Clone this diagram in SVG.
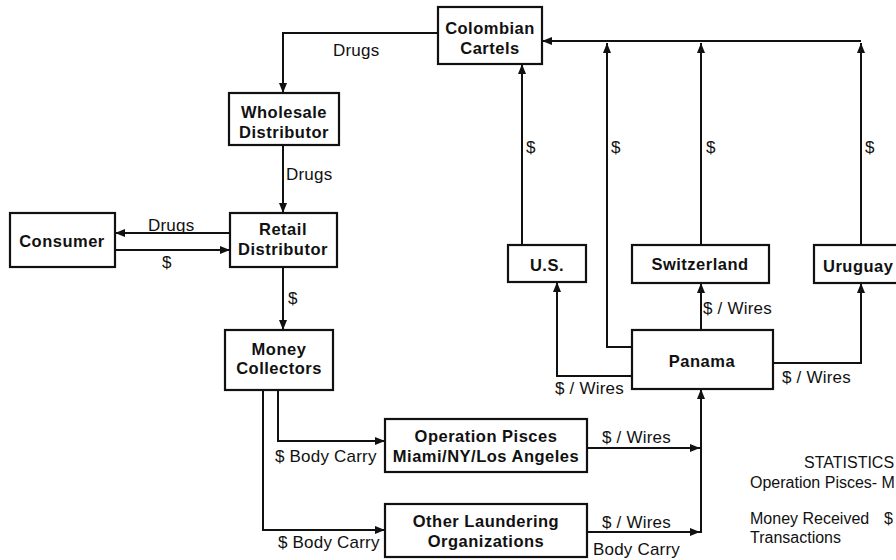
<svg xmlns="http://www.w3.org/2000/svg" width="896" height="560" viewBox="0 0 896 560">
  <style>
    .box { fill: #ffffff; stroke: #111111; stroke-width: 2.2; }
    .node { font-family: "Liberation Sans", Arial, sans-serif; font-weight: bold; font-size: 16.5px; letter-spacing: 0.5px; fill: #111111; text-anchor: middle; }
    .lbl { font-family: "Liberation Sans", Arial, sans-serif; font-size: 17px; letter-spacing: 0.2px; fill: #111111; }
    .stat { font-family: "Liberation Sans", Arial, sans-serif; font-size: 16px; fill: #111111; }
    .wire { fill: none; stroke: #111111; stroke-width: 2; }
  </style>
  <defs>
    <marker id="arrow" viewBox="0 0 10 8" refX="10" refY="4" markerWidth="10" markerHeight="8" markerUnits="userSpaceOnUse" orient="auto">
      <path d="M0,0 L10,4 L0,8 z" fill="#111111"/>
    </marker>
  </defs>
  <rect width="896" height="560" fill="#ffffff"/>

  <!-- connectors -->
  <g id="connectors" class="wire">
    <path d="M438,33 H283 V93" marker-end="url(#arrow)"/>
    <path d="M283,145 V213" marker-end="url(#arrow)"/>
    <path d="M230,233 H115" marker-end="url(#arrow)"/>
    <path d="M115,250 H230" marker-end="url(#arrow)"/>
    <path d="M283,267 V330" marker-end="url(#arrow)"/>
    <path d="M278,390 V441 H385" marker-end="url(#arrow)"/>
    <path d="M263,390 V530 H385" marker-end="url(#arrow)"/>
    <path d="M587,448 H700" marker-end="url(#arrow)"/>
    <path d="M587,532 H700" marker-end="url(#arrow)"/>
    <path d="M701,533 V389" marker-end="url(#arrow)"/>
    <path d="M632,376 H557 V282" marker-end="url(#arrow)"/>
    <path d="M701,330 V283" marker-end="url(#arrow)"/>
    <path d="M773,363 H861 V283" marker-end="url(#arrow)"/>
    <path d="M632,347 H607 V43" marker-end="url(#arrow)"/>
    <path d="M522,245 V64" marker-end="url(#arrow)"/>
    <path d="M701,245 V43" marker-end="url(#arrow)"/>
    <path d="M861,245 V43" marker-end="url(#arrow)"/>
    <path d="M861,41 H542" marker-end="url(#arrow)"/>
  </g>

  <!-- connector labels -->
  <g id="labels" class="lbl">
    <text x="333" y="56">Drugs</text>
    <text x="286" y="180">Drugs</text>
    <text x="148" y="231">Drugs</text>
    <text x="162" y="268">$</text>
    <text x="288" y="304">$</text>
    <text x="526" y="153">$</text>
    <text x="611" y="153">$</text>
    <text x="706" y="153">$</text>
    <text x="865" y="153">$</text>
    <text x="555" y="394">$ / Wires</text>
    <text x="703" y="314">$ / Wires</text>
    <text x="782" y="383">$ / Wires</text>
    <text x="275" y="462">$ Body Carry</text>
    <text x="602" y="443">$ / Wires</text>
    <text x="278" y="548">$ Body Carry</text>
    <text x="602" y="528">$ / Wires</text>
    <text x="593" y="555">Body Carry</text>
  </g>

  <!-- nodes -->
  <g id="colombian-cartels">
    <rect class="box" x="438" y="7" width="104" height="57"/>
    <text class="node" x="490" y="34">Colombian</text>
    <text class="node" x="490" y="54">Cartels</text>
  </g>
  <g id="wholesale-distributor">
    <rect class="box" x="229" y="93" width="110" height="52"/>
    <text class="node" x="284" y="118">Wholesale</text>
    <text class="node" x="284" y="138">Distributor</text>
  </g>
  <g id="retail-distributor">
    <rect class="box" x="230" y="213" width="107" height="54"/>
    <text class="node" x="283" y="235">Retail</text>
    <text class="node" x="283" y="255">Distributor</text>
  </g>
  <g id="consumer">
    <rect class="box" x="10" y="213" width="105" height="54"/>
    <text class="node" x="62" y="247">Consumer</text>
  </g>
  <g id="money-collectors">
    <rect class="box" x="225" y="330" width="108" height="60"/>
    <text class="node" x="279" y="355">Money</text>
    <text class="node" x="279" y="374">Collectors</text>
  </g>
  <g id="operation-pisces">
    <rect class="box" x="385" y="419" width="202" height="53"/>
    <text class="node" x="486" y="442">Operation Pisces</text>
    <text class="node" x="486" y="462">Miami/NY/Los Angeles</text>
  </g>
  <g id="other-laundering">
    <rect class="box" x="385" y="504" width="202" height="53"/>
    <text class="node" x="486" y="527">Other Laundering</text>
    <text class="node" x="486" y="547">Organizations</text>
  </g>
  <g id="panama">
    <rect class="box" x="632" y="330" width="141" height="59"/>
    <text class="node" x="702" y="367">Panama</text>
  </g>
  <g id="us">
    <rect class="box" x="508" y="245" width="78" height="37"/>
    <text class="node" x="547" y="271">U.S.</text>
  </g>
  <g id="switzerland">
    <rect class="box" x="632" y="245" width="137" height="38"/>
    <text class="node" x="700" y="270">Switzerland</text>
  </g>
  <g id="uruguay">
    <rect class="box" x="814" y="245" width="100" height="38"/>
    <text class="node" x="823" y="272" style="text-anchor:start">Uruguay</text>
  </g>

  <!-- statistics note -->
  <g id="statistics" class="stat">
    <text x="804" y="468">STATISTICS</text>
    <text x="750" y="488">Operation Pisces- M</text>
    <text x="750" y="524">Money Received</text>
    <text x="884" y="524">$</text>
    <text x="750" y="543">Transactions</text>
  </g>
</svg>
